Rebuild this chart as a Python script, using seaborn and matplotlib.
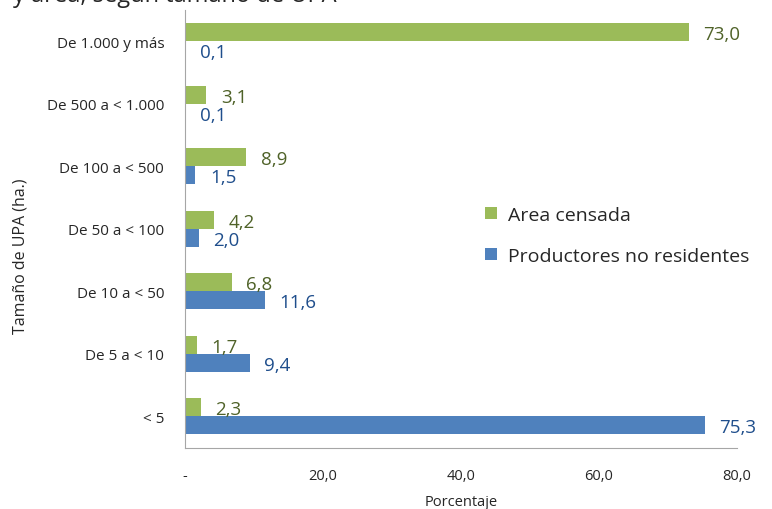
import pandas as pd
import matplotlib.pyplot as plt
import seaborn as sns

categorias = ['De 1.000 y más', 'De 500 a < 1.000', 'De 100 a < 500', 'De 50 a < 100',
              'De 10 a < 50', 'De 5 a < 10', '< 5']
area_censada = [73.0, 3.1, 8.9, 4.2, 6.8, 1.7, 2.3]
productores = [0.1, 0.1, 1.5, 2.0, 11.6, 9.4, 75.3]
series = ['Area censada', 'Productores no residentes']
xticks = [0, 20, 40, 60, 80]

GREEN = '#9BBB59'
BLUE = '#4F81BD'
GREEN_TXT = '#4F6228'
BLUE_TXT = '#1F4E8C'

sns.set_style('white')
plt.rcParams['font.family'] = ['Open Sans', 'DejaVu Sans']

df = pd.DataFrame({
    'cat': categorias * 2,
    'valor': area_censada + productores,
    'serie': [series[0]] * len(categorias) + [series[1]] * len(categorias),
})

fig = plt.figure(figsize=(7.72, 5.10), dpi=100)
ax = fig.add_axes([185 / 772, (510 - 448.5) / 510, (737 - 185) / 772, 437.5 / 510])

sns.barplot(data=df, y='cat', x='valor', hue='serie', order=categorias,
            hue_order=series, palette=[GREEN, BLUE], orient='h', width=0.576,
            saturation=1, linewidth=0, ax=ax, errorbar=None)

# etiquetas de valores
for cont, col in zip(ax.containers, [GREEN_TXT, BLUE_TXT]):
    for bar in cont:
        v = bar.get_width()
        ax.text(v + 2.1, bar.get_y() + bar.get_height() / 2 + 0.03,
                f"{v:.1f}".replace('.', ','),
                va='center', ha='left', fontsize=13.5, color=col)

ax.set_xlim(0, 80)
ax.set_ylim(6.5, -0.5)
ax.set_xticks(xticks)
ax.set_xticklabels(['-'] + [f"{t:.1f}".replace('.', ',') for t in xticks[1:]], fontsize=10.5)
ax.tick_params(axis='x', length=5, width=1, color='#A6A6A6', pad=10)
ax.tick_params(axis='y', length=0, labelsize=11, pad=15)
for s in ['top', 'right']:
    ax.spines[s].set_visible(False)
for s in ['left', 'bottom']:
    ax.spines[s].set_color('#A6A6A6')
ax.set_xlabel('Porcentaje', fontsize=10.5, labelpad=8)
ax.set_ylabel('Tamaño de UPA (ha.)', fontsize=11.5, labelpad=18)
ax.yaxis.set_label_coords(-0.283, 0.44)

leg = ax.legend(loc='upper left', bbox_to_anchor=(0.512, 0.593), frameon=False,
                fontsize=14, handlelength=0.6, handleheight=0.6, labelspacing=1.2,
                handletextpad=0.6)

fig.text(0.017, 1.008, 'y área, según tamaño de UPA', fontsize=17, va='center', ha='left')

fig.savefig('out.png', dpi=100)
